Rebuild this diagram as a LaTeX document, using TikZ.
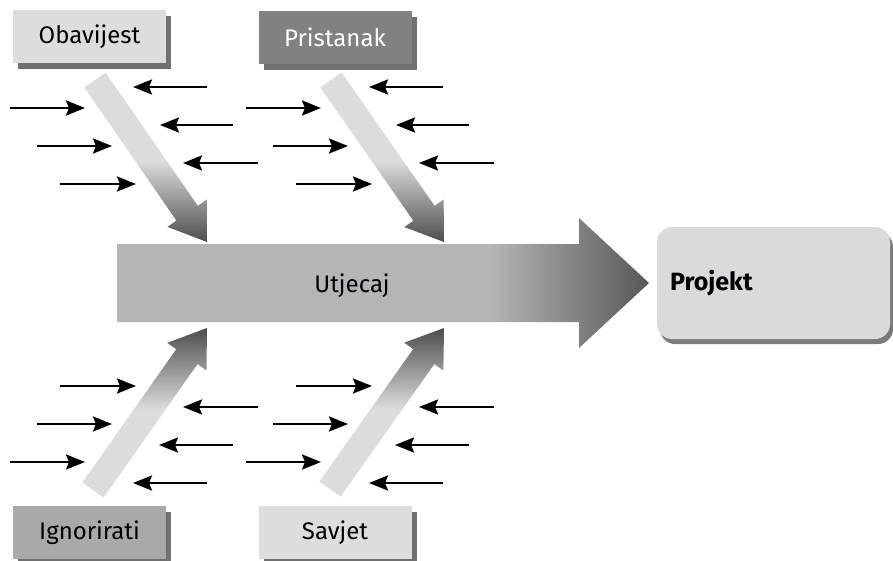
\documentclass[tikz,border=0pt]{standalone}
\usepackage{fontspec}
\setmainfont{Fira Sans}
\usetikzlibrary{calc,arrows.meta,shadows}

% colours
\definecolor{boxlight}{HTML}{DCDDDF}
\definecolor{boxmid}{HTML}{A8A9AB}
\definecolor{boxdark}{HTML}{808183}
\definecolor{boxshadow}{HTML}{6F7072}
\definecolor{projfill}{HTML}{D9DADC}
\definecolor{projshadow}{HTML}{7A7B7D}
\definecolor{shaftgray}{HTML}{B4B5B7}
\definecolor{shafttip}{HTML}{585858}
\definecolor{bonelight}{HTML}{DBDCDE}
\definecolor{bonedark}{HTML}{4D4D4D}

% shadings of the big arrow and of the four bones
\pgfdeclarehorizontalshading{mainshade}{100bp}{color(0bp)=(shaftgray); color(60bp)=(shaftgray); color(75bp)=(shafttip); color(100bp)=(shafttip)}
\pgfdeclareverticalshading{downshade}{100bp}{color(0bp)=(bonedark); color(25bp)=(bonedark); color(49bp)=(bonelight); color(100bp)=(bonelight)}
\pgfdeclareverticalshading{upshade}{100bp}{color(0bp)=(bonelight); color(51bp)=(bonelight); color(75bp)=(bonedark); color(100bp)=(bonedark)}

% a thick bone arrow from tail #1 to tip #2, shaded with #3
\newcommand\fishbone[3]{%
  \coordinate (bh) at ($(#2)!35pt!(#1)$);
  \shade[shading=#3]
    ($(#1)!13pt!90:(#2)$) -- ($(bh)!13pt!90:(#2)$) -- ($(bh)!24pt!90:(#2)$)
    -- (#2)
    -- ($(bh)!24pt!-90:(#2)$) -- ($(bh)!13pt!-90:(#2)$) -- ($(#1)!13pt!-90:(#2)$)
    -- cycle;}

\tikzset{
  labelfont/.style={font=\fontsize{24}{28}\selectfont},
  catbox/.style={labelfont, minimum width=153pt, minimum height=53pt, inner sep=0pt,
    drop shadow={shadow xshift=5pt, shadow yshift=-6pt, fill=boxshadow, opacity=1}},
  projbox/.style={fill=projfill, rounded corners=15pt, minimum height=112pt,
    text width=207pt, inner xsep=13pt, align=left,
    font=\fontsize{25}{29}\selectfont\bfseries,
    drop shadow={shadow xshift=3pt, shadow yshift=-5pt, fill=projshadow, opacity=1}},
  cause/.style={line width=2.5pt, -{Stealth[length=19pt,width=15pt,inset=3pt]}},
}

\begin{document}
\begin{tikzpicture}[x=1pt,y=-1pt]
\useasboundingbox (0,0) rectangle (893,560);

% main arrow
\shade[shading=mainshade] (117,244) -- (579,244) -- (579,218) -- (649,283)
  -- (579,348) -- (579,322) -- (117,322) -- cycle;
\node[labelfont] (ut) at (352,286) {Utjecaj};

% effect
\node[projbox] (pj) at (773.5,283) {Projekt};

% category boxes
\node[catbox, fill=boxlight] (ob) at (89.5,36.5) {Obavijest};
\node[catbox, fill=boxdark, text=white] (pr) at (335,37) {Pristanak};
\node[catbox, fill=boxmid] (ig) at (89.5,532.5) {Ignorirati};
\node[catbox, fill=boxlight] (sa) at (335,532.5) {Savjet};

% bones
\coordinate (obT) at (95,80);   \coordinate (obP) at (207,242);
\coordinate (prT) at (331,80);  \coordinate (prP) at (444,242);
\coordinate (igT) at (93,490);  \coordinate (igP) at (207,328);
\coordinate (saT) at (330,489); \coordinate (saP) at (444,328);
\fishbone{obT}{obP}{downshade}
\fishbone{prT}{prP}{downshade}
\fishbone{igT}{igP}{upshade}
\fishbone{saT}{saP}{upshade}

% small cause arrows: start x / end x / y, for the left groups; right groups shifted by 236
\foreach \sx/\ex/\yy [count=\i] in {
    207/133/87, 10/85/108, 233/160/125, 37/112/146, 258/183/163, 60/136/184,
    60/136/386, 258/183/407, 37/112/424, 233/159/445, 10/85/462, 207/133/483}{
  \coordinate (cl\i s) at (\sx,\yy);       \coordinate (cl\i e) at (\ex,\yy);
  \coordinate (cr\i s) at (\sx+236,\yy);   \coordinate (cr\i e) at (\ex+236,\yy);
  \draw[cause] (cl\i s) -- (cl\i e);
  \draw[cause] (cr\i s) -- (cr\i e);
}
\end{tikzpicture}
\end{document}
